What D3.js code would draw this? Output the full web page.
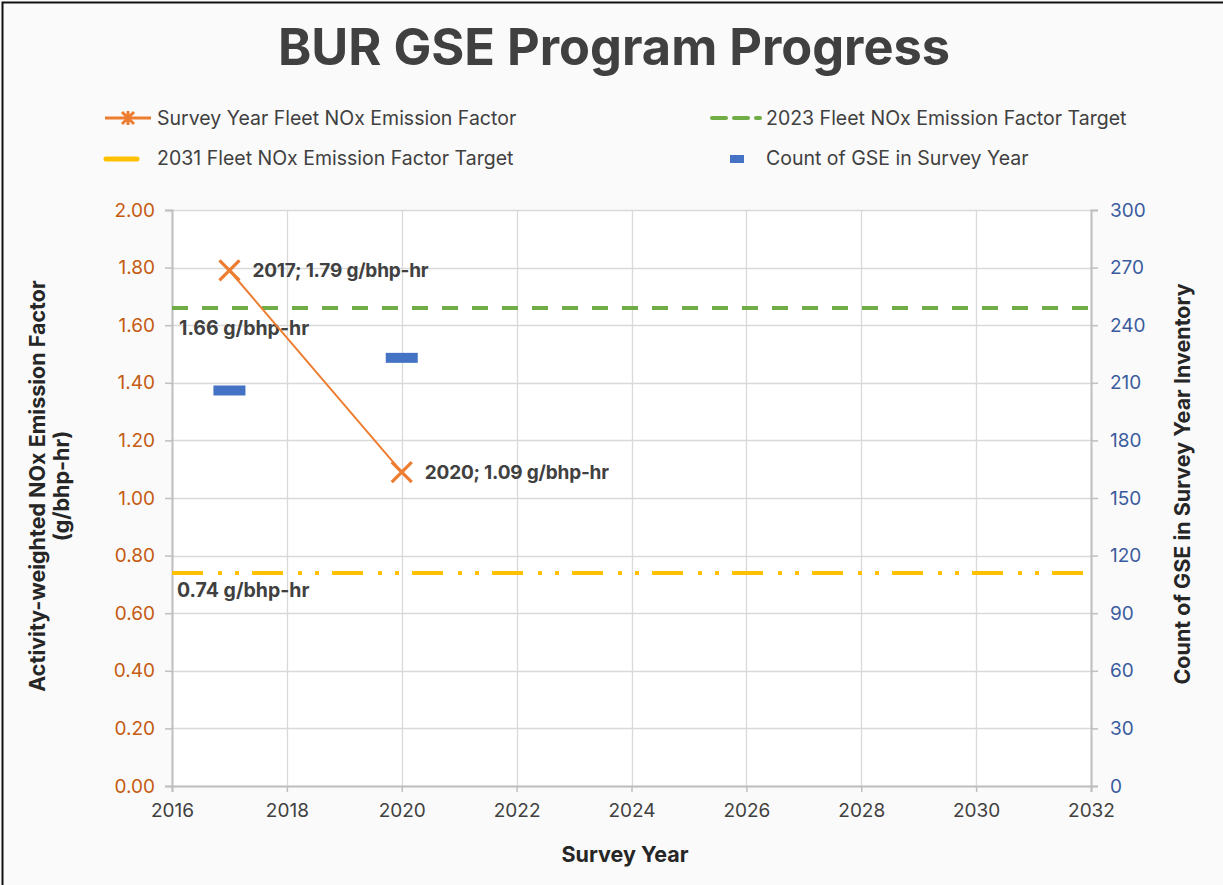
<!DOCTYPE html>
<html>
<head>
<meta charset="utf-8">
<script src="https://cdn.jsdelivr.net/npm/d3@7"></script>
<style>
  html, body { margin: 0; padding: 0; background: #fafafa; }
  svg { display: block; font-family: Inter, "Noto Sans", sans-serif; }
</style>
</head>
<body>
<svg id="chart" width="1223" height="885"></svg>
<script>
// ---- data ----
const surveyYears = [2017, 2020];
const emissionFactor = [1.79, 1.09];
const gseCount = [206, 223];
const target2023 = 1.66;
const target2031 = 0.74;
const xTicks = [2016, 2018, 2020, 2022, 2024, 2026, 2028, 2030, 2032];
const yLeftTicks = [0, 0.2, 0.4, 0.6, 0.8, 1.0, 1.2, 1.4, 1.6, 1.8, 2.0];
const yRightTicks = [0, 30, 60, 90, 120, 150, 180, 210, 240, 270, 300];
const legendLabels = [
  "Survey Year Fleet NOx Emission Factor",
  "2023 Fleet NOx Emission Factor Target",
  "2031 Fleet NOx Emission Factor Target",
  "Count of GSE in Survey Year"
];

// ---- layout ----
const W = 1223, H = 885;
const plot = { left: 172, right: 1091, top: 210, bottom: 786 };
const svg = d3.select("#chart");

const C = {
  orange: "#ED7D31", green: "#70AD47", yellow: "#FFC000", blue: "#4472C4",
  leftTick: "#C55A11", rightTick: "#3A5C9E", text: "#404040", grid: "#D9D9D9", axis: "#BFBFBF"
};

svg.append("rect").attr("x", 0).attr("y", 0).attr("width", W).attr("height", H).attr("fill", "#fafafa");
// border (top and left visible)
svg.append("rect").attr("x", 2.5).attr("y", 2.5).attr("width", W + 10).attr("height", H + 10)
  .attr("fill", "none").attr("stroke", "#111").attr("stroke-width", 2);

const x = d3.scaleLinear().domain([2016, 2032]).range([plot.left, plot.right]);
const yL = d3.scaleLinear().domain([0, 2]).range([plot.bottom, plot.top]);
const yR = d3.scaleLinear().domain([0, 300]).range([plot.bottom, plot.top]);

svg.append("rect").attr("x", plot.left).attr("y", plot.top)
  .attr("width", plot.right - plot.left).attr("height", plot.bottom - plot.top).attr("fill", "#fff");

// title
svg.append("text").attr("x", 614).attr("y", 65).attr("text-anchor", "middle")
  .attr("font-size", 50.5).attr("font-weight", 700).attr("fill", C.text).text("BUR GSE Program Progress");

// grid
svg.append("g").selectAll("line").data(yLeftTicks).join("line")
  .attr("x1", plot.left).attr("x2", plot.right)
  .attr("y1", d => Math.round(yL(d)) + 0.5).attr("y2", d => Math.round(yL(d)) + 0.5)
  .attr("stroke", C.grid).attr("stroke-width", 1.3);
svg.append("g").selectAll("line").data(xTicks).join("line")
  .attr("y1", plot.top).attr("y2", plot.bottom)
  .attr("x1", d => Math.round(x(d)) + 0.5).attr("x2", d => Math.round(x(d)) + 0.5)
  .attr("stroke", C.grid).attr("stroke-width", 1.3);

// axes
function styleAxis(g, color) {
  g.select(".domain").attr("stroke", C.axis).attr("stroke-width", 2);
  g.selectAll(".tick line").attr("stroke", C.axis).attr("stroke-width", 1.5);
  g.selectAll(".tick text").attr("fill", color).attr("font-size", 19)
    .attr("font-family", "Inter, 'Noto Sans', sans-serif");
}
const gx = svg.append("g").attr("transform", `translate(0,${plot.bottom})`)
  .call(d3.axisBottom(x).tickValues(xTicks).tickFormat(d3.format("d")).tickSizeOuter(0).tickSize(6).tickPadding(12));
styleAxis(gx, C.text);
const gl = svg.append("g").attr("transform", `translate(${plot.left},0)`)
  .call(d3.axisLeft(yL).tickValues(yLeftTicks).tickFormat(d3.format(".2f")).tickSizeOuter(0).tickSize(7).tickPadding(10));
styleAxis(gl, C.leftTick);
const gr = svg.append("g").attr("transform", `translate(${plot.right},0)`)
  .call(d3.axisRight(yR).tickValues(yRightTicks).tickFormat(d3.format("d")).tickSizeOuter(0).tickSize(7).tickPadding(12));
styleAxis(gr, C.rightTick);

// axis titles
svg.append("text").attr("x", 625).attr("y", 862).attr("text-anchor", "middle")
  .attr("font-size", 21.5).attr("font-weight", 700).attr("fill", "#262626").text("Survey Year");
const lt = svg.append("text").attr("transform", "translate(45,486) rotate(-90)")
  .attr("text-anchor", "middle").attr("font-size", 21.5).attr("font-weight", 700).attr("fill", "#262626");
lt.append("tspan").attr("x", 0).attr("dy", 0).text("Activity-weighted NOx Emission Factor");
lt.append("tspan").attr("x", 0).attr("dy", 24).text("(g/bhp-hr)");
svg.append("text").attr("transform", "translate(1190,484) rotate(-90)")
  .attr("text-anchor", "middle").attr("font-size", 21.5).attr("font-weight", 700).attr("fill", "#262626")
  .text("Count of GSE in Survey Year Inventory");

// target lines
svg.append("line").attr("x1", plot.left).attr("x2", plot.right)
  .attr("y1", yL(target2023)).attr("y2", yL(target2023))
  .attr("stroke", C.green).attr("stroke-width", 4).attr("stroke-dasharray", "16,14");
svg.append("line").attr("x1", plot.left).attr("x2", plot.right)
  .attr("y1", yL(target2031)).attr("y2", yL(target2031))
  .attr("stroke", C.yellow).attr("stroke-width", 4).attr("stroke-dasharray", "31,15,4,13,4,13");

svg.append("text").attr("x", 179).attr("y", yL(target2023) + 27)
  .attr("font-size", 19.5).attr("font-weight", 700).attr("fill", C.text).text(target2023.toFixed(2) + " g/bhp-hr");
svg.append("text").attr("x", 177).attr("y", yL(target2031) + 24)
  .attr("font-size", 19.5).attr("font-weight", 700).attr("fill", C.text).text(target2031.toFixed(2) + " g/bhp-hr");

// count markers (right axis)
svg.append("g").selectAll("rect").data(surveyYears).join("rect")
  .attr("x", d => x(d) - 16).attr("width", 32)
  .attr("y", (d, i) => yR(gseCount[i]) - 5).attr("height", 10)
  .attr("fill", C.blue);

// emission factor line
const pts = surveyYears.map((d, i) => [x(d), yL(emissionFactor[i])]);
svg.append("path").attr("d", d3.line()(pts)).attr("fill", "none")
  .attr("stroke", C.orange).attr("stroke-width", 2);
const s = 10;
svg.append("g").selectAll("path").data(pts).join("path")
  .attr("d", p => `M${p[0]-s},${p[1]-s}L${p[0]+s},${p[1]+s}M${p[0]-s},${p[1]+s}L${p[0]+s},${p[1]-s}`)
  .attr("stroke", C.orange).attr("stroke-width", 3.2).attr("fill", "none");
svg.append("g").selectAll("text").data(surveyYears).join("text")
  .attr("x", d => x(d) + 23).attr("y", (d, i) => yL(emissionFactor[i]) + 7)
  .attr("font-size", 19).attr("font-weight", 700).attr("fill", C.text).attr("letter-spacing", -0.2)
  .text((d, i) => `${d}; ${emissionFactor[i].toFixed(2)} g/bhp-hr`);

// legend
const lg = svg.append("g").attr("font-size", 19.5).attr("fill", C.text);
// item 1
lg.append("line").attr("x1", 105).attr("x2", 151).attr("y1", 118).attr("y2", 118)
  .attr("stroke", C.orange).attr("stroke-width", 3);
lg.append("path").attr("d", "M122,112L134,124M122,124L134,112M128,111L128,125")
  .attr("stroke", C.orange).attr("stroke-width", 3);
lg.append("text").attr("x", 157).attr("y", 125).attr("fill", C.text).text(legendLabels[0]);
// item 2
lg.append("line").attr("x1", 712).attr("x2", 760).attr("y1", 118).attr("y2", 118)
  .attr("stroke", C.green).attr("stroke-width", 4).attr("stroke-dasharray", "14,8").attr("stroke-linecap", "round");
lg.append("text").attr("x", 766).attr("y", 125).attr("fill", C.text).text(legendLabels[1]);
// item 3
lg.append("line").attr("x1", 106).attr("x2", 137).attr("y1", 159).attr("y2", 159)
  .attr("stroke", C.yellow).attr("stroke-width", 5).attr("stroke-linecap", "round");
lg.append("text").attr("x", 157).attr("y", 165).attr("fill", C.text).text(legendLabels[2]);
// item 4
lg.append("rect").attr("x", 730).attr("y", 155).attr("width", 14).attr("height", 8).attr("fill", C.blue);
lg.append("text").attr("x", 766).attr("y", 165).attr("fill", C.text).text(legendLabels[3]);
</script>
</body>
</html>
